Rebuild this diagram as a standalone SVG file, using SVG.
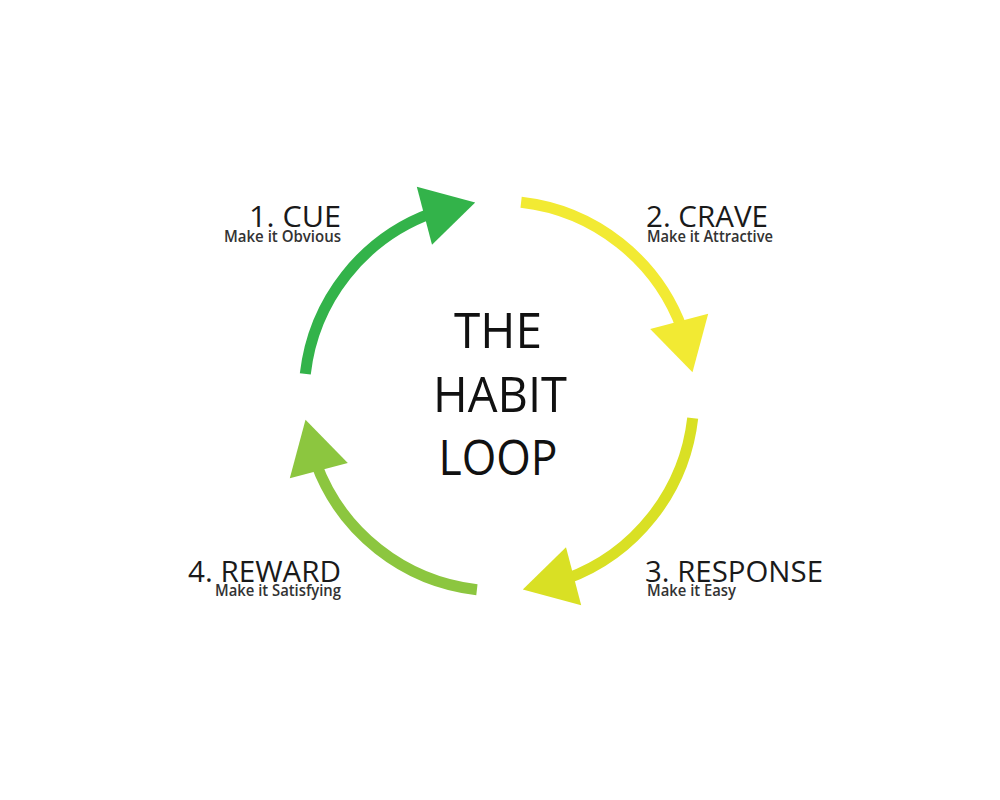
<svg xmlns="http://www.w3.org/2000/svg" width="1000" height="800" viewBox="0 0 1000 800">
  <style>
    .shaft { fill: none; stroke-width: 11; stroke-linecap: butt; }
    .title { font-family: "Open Sans", "Liberation Sans", sans-serif; font-size: 50px; fill: #111; }
    .lbl { font-family: "Open Sans", "Liberation Sans", sans-serif; font-size: 29px; fill: #1a1a1a; }
    .sub { font-family: "Open Sans", "Liberation Sans", sans-serif; font-size: 16px; font-weight: 600; fill: #333; }
  </style>
  <rect width="1000" height="800" fill="#ffffff"/>
  <g id="connectors">
    <g id="arrow-cue">
      <path class="shaft" stroke="#33b34a" d="M305.3,373.9 A195,195 0 0 1 432.3,212.8"/>
      <polygon fill="#33b34a" points="432.0,244.8 416.8,186.8 475.2,202.5"/>
    </g>
    <g id="arrow-crave">
      <path class="shaft" stroke="#f2ea33" d="M521.1,202.3 A195,195 0 0 1 682.2,329.3"/>
      <polygon fill="#f2ea33" points="650.2,329 708.2,313.8 692.5,372.2"/>
    </g>
    <g id="arrow-response">
      <path class="shaft" stroke="#d9e024" d="M692.7,418.1 A195,195 0 0 1 565.7,579.2"/>
      <polygon fill="#d9e024" points="566,547.2 581.2,605.2 522.8,589.5"/>
    </g>
    <g id="arrow-reward">
      <path class="shaft" stroke="#8cc63f" d="M476.9,589.7 A195,195 0 0 1 315.8,462.7"/>
      <polygon fill="#8cc63f" points="347.8,463 289.8,478.2 305.5,419.8"/>
    </g>
  </g>
  <g id="center">
    <text class="title" x="498" y="348" text-anchor="middle" textLength="88" lengthAdjust="spacingAndGlyphs">THE</text>
    <text class="title" x="500" y="412" text-anchor="middle" textLength="134" lengthAdjust="spacingAndGlyphs">HABIT</text>
    <text class="title" x="498" y="475" text-anchor="middle" textLength="119" lengthAdjust="spacingAndGlyphs">LOOP</text>
  </g>
  <g id="cue">
    <text class="lbl" x="341" y="227" text-anchor="end" textLength="92" lengthAdjust="spacingAndGlyphs">1. CUE</text>
    <text class="sub" x="341" y="242" text-anchor="end" textLength="117" lengthAdjust="spacingAndGlyphs">Make it Obvious</text>
  </g>
  <g id="crave">
    <text class="lbl" x="646" y="227" textLength="122" lengthAdjust="spacingAndGlyphs">2. CRAVE</text>
    <text class="sub" x="647" y="242" textLength="126" lengthAdjust="spacingAndGlyphs">Make it Attractive</text>
  </g>
  <g id="response">
    <text class="lbl" x="645" y="582" textLength="178" lengthAdjust="spacingAndGlyphs">3. RESPONSE</text>
    <text class="sub" x="647" y="596" textLength="89" lengthAdjust="spacingAndGlyphs">Make it Easy</text>
  </g>
  <g id="reward">
    <text class="lbl" x="341" y="582" text-anchor="end" textLength="153" lengthAdjust="spacingAndGlyphs">4. REWARD</text>
    <text class="sub" x="341" y="596" text-anchor="end" textLength="126" lengthAdjust="spacingAndGlyphs">Make it Satisfying</text>
  </g>
</svg>
